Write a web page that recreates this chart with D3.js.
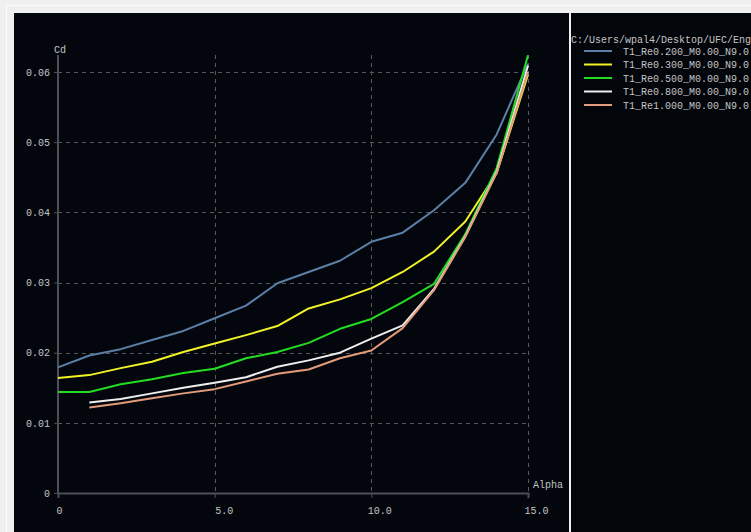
<!DOCTYPE html>
<meta charset="utf-8">

<!-- Load d3.js -->
<script src="https://d3js.org/d3.v7.min.js"></script>

<style>
  body { margin: 0; background: #f0f0f0; }
  text { font-family: "Liberation Mono", "DejaVu Sans Mono", monospace; font-size: 10px; fill: #c4c4c4; }
</style>

<!-- Create a div where the graph will take place -->
<div id="my_dataviz"></div>

<script>

// polar data: Cd against alpha for every Reynolds number
var seriesNames = ["T1_Re0.200_M0.00_N9.0", "T1_Re0.300_M0.00_N9.0", "T1_Re0.500_M0.00_N9.0",
                   "T1_Re0.800_M0.00_N9.0", "T1_Re1.000_M0.00_N9.0"]
var seriesColors = ["#5b7fa6", "#f2f226", "#22dd22", "#eeeeee", "#e39b7a"]

var alphaFull = [0, 1, 2, 3, 4, 5, 6, 7, 8, 9, 10, 11, 12, 13, 14, 15]
var alphaFrom1 = [1, 2, 3, 4, 5, 6, 7, 8, 9, 10, 11, 12, 13, 14, 15]

var cdRe02 = [0.0179, 0.0196, 0.0205, 0.0218, 0.0231, 0.0249, 0.0267, 0.0299, 0.0315, 0.0331, 0.0358, 0.0371, 0.0403, 0.0442, 0.0511, 0.0612]
var cdRe03 = [0.0164, 0.0168, 0.0178, 0.0187, 0.0201, 0.0213, 0.0225, 0.0238, 0.0263, 0.0276, 0.0292, 0.0315, 0.0344, 0.0387, 0.0456, 0.0596]
var cdRe05 = [0.0144, 0.0144, 0.0155, 0.0162, 0.0171, 0.0177, 0.0192, 0.0201, 0.0214, 0.0234, 0.0248, 0.0272, 0.0298, 0.0369, 0.0463, 0.0624]
var cdRe08 = [0.0129, 0.0134, 0.0142, 0.0150, 0.0157, 0.0165, 0.0180, 0.0189, 0.0200, 0.0220, 0.0239, 0.0291, 0.0366, 0.0458, 0.0609]
var cdRe10 = [0.0122, 0.0128, 0.0135, 0.0142, 0.0148, 0.0159, 0.0170, 0.0176, 0.0192, 0.0203, 0.0235, 0.0289, 0.0365, 0.0456, 0.0600]

var xTicks = [0, 5, 10, 15]
var yTicks = [0, 0.01, 0.02, 0.03, 0.04, 0.05, 0.06]
// the path is cut by the panel edge in the picture
var legendTitle = "C:/Users/wpal4/Desktop/UFC/Eng"

var allAlpha = [alphaFull, alphaFull, alphaFull, alphaFrom1, alphaFrom1]
var allCd = [cdRe02, cdRe03, cdRe05, cdRe08, cdRe10]

// build one list of {a, cd} points per series
var series = seriesNames.map(function(name, i) {
    return {
        name: name,
        color: seriesColors[i],
        values: allAlpha[i].map(function(a, j) { return {a: a, cd: allCd[i][j]}; })
    };
});

var W = 751, H = 532

var svg = d3.select("#my_dataviz")
    .append("svg")
    .attr("width", W)
    .attr("height", H)
    .style("display", "block")

// light frame and the two dark panels
svg.append("rect")
    .attr("x", 6.5).attr("y", 5.5).attr("width", W).attr("height", H)
    .attr("fill", "none").attr("stroke", "#fbfbfb")
svg.append("rect")
    .attr("x", 14).attr("y", 13).attr("width", 555).attr("height", H - 13)
    .attr("fill", "#03070d")
svg.append("rect")
    .attr("x", 571).attr("y", 13).attr("width", W - 571).attr("height", H - 13)
    .attr("fill", "#020509")

// scales
var x = d3.scaleLinear()
    .domain([0, 15])
    .range([58, 528]);

var y = d3.scaleLinear()
    .domain([0, 0.06])
    .range([493, 72]);

var plotTop = 55

// dashed grid
svg.append("g")
    .selectAll("line")
    .data(yTicks.filter(function(d) { return d > 0; }))
    .enter().append("line")
        .attr("x1", x(0)).attr("x2", x(15))
        .attr("y1", function(d) { return Math.round(y(d)) + 0.5; })
        .attr("y2", function(d) { return Math.round(y(d)) + 0.5; })
        .attr("stroke", "#595959")
        .attr("stroke-dasharray", "4,4")
svg.append("g")
    .selectAll("line")
    .data(xTicks.filter(function(d) { return d > 0; }))
    .enter().append("line")
        .attr("x1", function(d) { return Math.round(x(d)) + 0.5; })
        .attr("x2", function(d) { return Math.round(x(d)) + 0.5; })
        .attr("y1", plotTop).attr("y2", y(0))
        .attr("stroke", "#595959")
        .attr("stroke-dasharray", "4,4")

// Add X axis
var xAxis = svg.append("g")
    .attr("transform", "translate(0," + y(0) + ")")
    .call(d3.axisBottom(x).tickValues(xTicks).tickSize(5)
        .tickFormat(function(d) { return d === 0 ? "0" : d3.format(".1f")(d); }))
xAxis.select(".domain").attr("stroke", "#4c4f58").attr("stroke-width", 2)
xAxis.selectAll(".tick line").attr("stroke", "#4c4f58")
xAxis.selectAll(".tick text")
    .attr("y", 14)
    .style("text-anchor", "start")
    .attr("dx", function(d) { return d === 0 ? -2 : (d >= 10 ? -4 : 0); })

// Add Y axis
var yAxis = svg.append("g")
    .attr("transform", "translate(" + x(0) + ",0)")
    .call(d3.axisLeft(y).tickValues(yTicks).tickSize(4).tickSizeOuter(0)
        .tickFormat(function(d) { return d === 0 ? "0" : d3.format(".2f")(d); }))
yAxis.select(".domain").attr("d", "M0," + plotTop + "V" + y(0)).attr("stroke", "#4c4f58").attr("stroke-width", 2)
yAxis.selectAll(".tick line").attr("stroke", "#4c4f58")
yAxis.selectAll(".tick text").attr("x", -8)
svg.selectAll(".tick text").style("font-family", null).style("font-size", null).attr("fill", "#c4c4c4")

// axis titles
svg.append("text").attr("x", 54).attr("y", 53).text("Cd")
svg.append("text").attr("x", 533).attr("y", 488).text("Alpha")

// the polar curves
var line = d3.line()
    .x(function(d) { return x(d.a); })
    .y(function(d) { return y(d.cd); })

svg.append("g")
    .selectAll("path")
    .data(series)
    .enter().append("path")
        .attr("d", function(d) { return line(d.values); })
        .attr("fill", "none")
        .attr("stroke", function(d) { return d.color; })
        .attr("stroke-width", 2)
        .attr("stroke-linejoin", "round")

// legend
svg.append("text").attr("x", 571).attr("y", 43).text(legendTitle)
var legend = svg.append("g")
    .selectAll("g")
    .data(series)
    .enter().append("g")
        .attr("transform", function(d, i) { return "translate(0," + (51 + i * 13.5) + ")"; })
legend.append("line")
    .attr("x1", 584).attr("x2", 612)
    .attr("stroke", function(d) { return d.color; })
    .attr("stroke-width", 2)
legend.append("text")
    .attr("x", 623).attr("y", 3.5)
    .text(function(d) { return d.name; })

</script>
